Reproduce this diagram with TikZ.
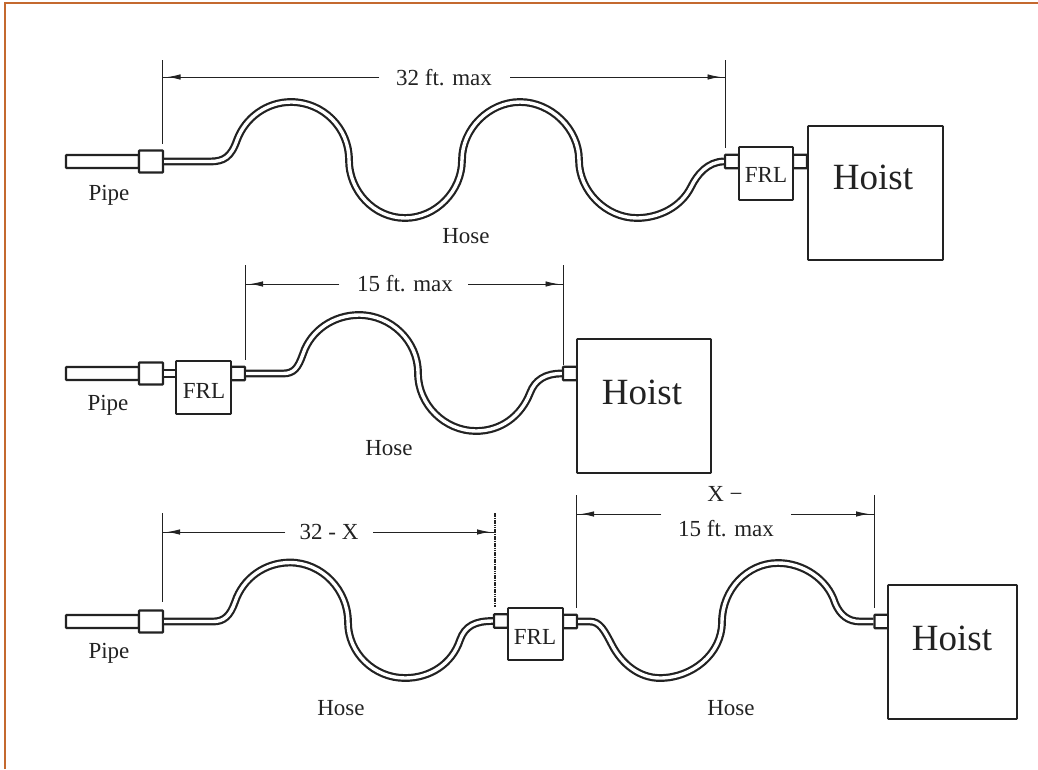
\documentclass[tikz,border=0pt]{standalone}
\usepackage{fontspec}
\setmainfont{Liberation Serif}
\usetikzlibrary{arrows.meta,calc}
\definecolor{inkc}{HTML}{222222}
\definecolor{framec}{HTML}{C4692F}
\tikzset{
  x=1pt,y=-1pt,
  boxn/.style={draw=inkc,line width=1.8pt,fill=white,inner sep=0pt,rounded corners=0.6pt},
  hoistbox/.style={boxn,minimum width=134pt,minimum height=134pt},
  frlbox/.style={boxn,minimum width=54pt,minimum height=53pt},
  fitlarge/.style={boxn,line width=2.2pt,minimum width=24pt,minimum height=22pt},
  fitsmall/.style={boxn,line width=2.2pt,minimum width=14pt,minimum height=13.5pt},
  pipen/.style={boxn,line width=2.2pt,minimum width=73pt,minimum height=13pt},
  hose/.style={draw=inkc,line width=2.2pt,double=white,double distance=3.4pt},
  ext/.style={draw=inkc,line width=0.9pt},
  dotext/.style={draw=inkc,line width=1.1pt,dash pattern=on 1.6pt off 0.7pt},
  dimn/.style={draw=inkc,line width=0.9pt},
  dimtip/.style={draw=inkc,line width=0.9pt,-{Latex[length=13pt,width=5.5pt]},shorten >=5pt},
  lab/.style={text=inkc,inner sep=0pt,font=\fontsize{23}{26}\selectfont},
  hoistt/.style={text=inkc,inner sep=0pt,font=\fontsize{37}{40}\selectfont},
  frlt/.style={text=inkc,inner sep=0pt,font=\fontsize{23}{26}\selectfont},
}
\newcommand{\dimtipline}[2]{\draw[dimn] (#1) -- (#2); \draw[dimtip] (#1) -- (#2);}
\begin{document}
\begin{tikzpicture}
\useasboundingbox (0,0) rectangle (1038,769);
% frame
\coordinate (fa) at (5,769); \coordinate (fb) at (5,3); \coordinate (fc) at (1038,3);
\draw[framec,line width=1.3pt] (fa) -- (fb) -- (fc);

% ---- row 1
\node[pipen] (p1) at (102.5,161.5) {};
\node[fitlarge] (f1) at (151,161.5) {};
\node[fitsmall] (g1) at (732,161.5) {};
\draw[hose] (f1.east) -- (210,161.5) .. controls (224,161.5) and (231,157) .. (237,140)
  .. controls (245.4,117.3) and (267,102) .. (291,102) .. controls (323,102) and (349,128) .. (349,160)
  .. controls (349,191) and (374,218) .. (405,218) .. controls (436,218) and (462,191) .. (462,160)
  .. controls (462,129) and (489,102) .. (520,102) .. controls (551,102) and (579,129) .. (579,160)
  .. controls (579,191) and (606,218) .. (637,218) .. controls (659,218) and (681,207) .. (691,187)
  .. controls (697,174.5) and (708,161.5) .. (g1.west);
\node[fitsmall] (h1) at (800,161.5) {};
\node[frlbox] (r1) at (766,173.5) {};
\node[frlt] (r1t) at (766,175) {FRL};
\node[hoistbox,minimum width=135pt] (b1) at (875.5,193) {};
\node[hoistt] (b1t) at (873,177) {Hoist};
\coordinate (e1a) at (162.5,60); \coordinate (e1b) at (162.5,144);
\coordinate (e1c) at (725.5,60); \coordinate (e1d) at (725.5,148);
\draw[ext] (e1a) -- (e1b); \draw[ext] (e1c) -- (e1d);
\node[lab] (d1) at (444,78) {32 ft. max};
\coordinate (d1l) at (162.5,77); \coordinate (d1r) at (725.5,77);
\coordinate (d1a) at (379,77); \coordinate (d1b) at (510,77);
\dimtipline{d1a}{d1l} \dimtipline{d1b}{d1r}
\node[lab] (pi1) at (109,195) {Pipe};
\node[lab] (ho1) at (466,236) {Hose};

% ---- row 2
\node[pipen] (p2) at (102.5,373.5) {};
\node[fitlarge] (f2) at (151,373.5) {};
\node[fitsmall] (h2) at (238,373.5) {};
\node[fitsmall] (g2) at (570,373.5) {};
\draw[hose] (h2.east) -- (283,373.5) .. controls (294,373.5) and (298,368) .. (303,354)
  .. controls (311,330) and (334,315) .. (359,315) .. controls (391,315) and (418,341) .. (418,373)
  .. controls (418,405) and (445,431) .. (476,431) .. controls (501,431) and (521,416) .. (530,393)
  .. controls (535,380) and (545,373.5) .. (g2.west);
\coordinate (c2) at (177,373.5);
\draw[hose,double distance=5.5pt,line width=1.8pt] (f2.east) -- (c2);
\node[frlbox,minimum width=55pt] (r2) at (203.5,387.5) {};
\node[frlt] (r2t) at (204,391) {FRL};
\node[hoistbox] (b2) at (644,406) {};
\node[hoistt] (b2t) at (642,392) {Hoist};
\coordinate (e2a) at (245,265); \coordinate (e2b) at (245,360);
\coordinate (e2c) at (563.5,265); \coordinate (e2d) at (563.5,365);
\draw[ext] (e2a) -- (e2b); \draw[ext,line width=1.4pt] (e2c) -- (e2d);
\node[lab] (d2) at (405,284) {15 ft. max};
\coordinate (d2l) at (245,284); \coordinate (d2r) at (563.5,284);
\coordinate (d2a) at (339,284); \coordinate (d2b) at (468,284);
\dimtipline{d2a}{d2l} \dimtipline{d2b}{d2r}
\node[lab] (pi2) at (108,405) {Pipe};
\node[lab] (ho2) at (389,448) {Hose};

% ---- row 3
\node[pipen] (p3) at (102.5,621.5) {};
\node[fitlarge] (f3) at (151,621.5) {};
\node[fitsmall] (g3) at (501,621) {};
\node[fitsmall] (h3) at (570,621.5) {};
\node[fitsmall] (k3) at (881.5,621.5) {};
\draw[hose] (f3.east) -- (213,621.5) .. controls (224,621.5) and (230,616) .. (235,602)
  .. controls (243,578) and (265,562.5) .. (290,562.5) .. controls (322,562.5) and (348,590) .. (348,622)
  .. controls (348,653) and (374,678) .. (405,678) .. controls (430,678) and (452,664) .. (460,640)
  .. controls (465,626) and (475,621) .. (g3.west);
\draw[hose] (h3.east) -- (590,621.5) .. controls (600,621.5) and (604.6,630.8) .. (612,645)
  .. controls (621.7,663.7) and (639,678) .. (660,678) .. controls (692,678) and (722,654) .. (722,622)
  .. controls (722,590) and (747,563) .. (778,563) .. controls (803,563) and (827.5,579) .. (835,603)
  .. controls (840,615) and (848,621.5) .. (860,621.5) -- (k3.west);
\node[frlbox,minimum width=55pt,minimum height=52pt] (r3) at (535.5,634) {};
\node[frlt] (r3t) at (535,637) {FRL};
\node[hoistbox,minimum width=129pt] (b3) at (952.5,652) {};
\node[hoistt] (b3t) at (952,638) {Hoist};
\coordinate (e3a) at (162,513); \coordinate (e3b) at (162,602);
\coordinate (e3c) at (495,513); \coordinate (e3d) at (495,607);
\coordinate (e3e) at (576,495); \coordinate (e3f) at (576,608);
\coordinate (e3g) at (874,495); \coordinate (e3h) at (874,608);
\draw[ext] (e3a) -- (e3b); \draw[dotext] (e3c) -- (e3d);
\draw[ext] (e3e) -- (e3f); \draw[ext] (e3g) -- (e3h);
\node[lab] (d3) at (329,532) {32 - X};
\coordinate (d3l) at (162,532); \coordinate (d3r) at (495,532);
\coordinate (d3a) at (285,532); \coordinate (d3b) at (373,532);
\dimtipline{d3a}{d3l} \dimtipline{d3b}{d3r}
\node[lab] (d4) at (725,494) {X −};
\node[lab] (d5) at (726,529) {15 ft. max};
\coordinate (d4l) at (576,514); \coordinate (d4r) at (874,514);
\coordinate (d4a) at (661,514); \coordinate (d4b) at (791,514);
\dimtipline{d4a}{d4l} \dimtipline{d4b}{d4r}
\node[lab] (pi3) at (109,653) {Pipe};
\node[lab] (ho3) at (341,708) {Hose};
\node[lab] (ho4) at (731,708) {Hose};
\end{tikzpicture}
\end{document}
